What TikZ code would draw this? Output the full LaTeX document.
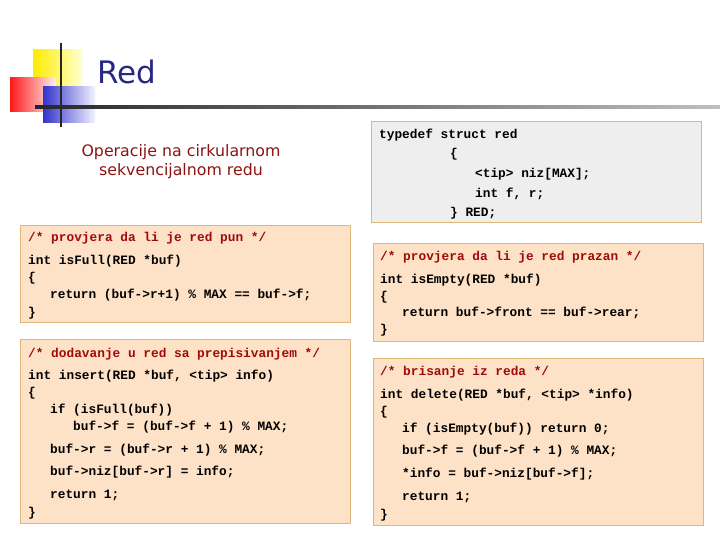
\documentclass[tikz,border=0pt]{standalone}
\usepackage{fontspec}
\setmainfont{DejaVu Sans}
\newfontfamily\codefont{Liberation Mono}
\begin{document}
\begin{tikzpicture}[x=1pt,y=-1pt,
  box/.style={draw={rgb,255:red,222;green,184;blue,120},line width=0.8pt,fill={rgb,255:red,253;green,226;blue,199}},
  gbox/.style={draw={rgb,255:red,222;green,184;blue,120},line width=0.8pt,fill={rgb,255:red,238;green,238;blue,238}},
  cl/.style={anchor=base west,inner sep=0pt,font=\codefont\bfseries\fontsize{12.8}{14}\selectfont},
  cmt/.style={cl,text={rgb,255:red,160;green,10;blue,10}}]
\definecolor{navy}{RGB}{40,40,130}
\definecolor{dred}{RGB}{140,20,20}
\useasboundingbox (0,0) rectangle (720,540);
% logo
\shade[left color=yellow!85!orange, right color=yellow!20] (33,50) rectangle (82,97);
\shade[left color=red!90, right color=red!5] (10,78) rectangle (56,112);
\shade[left color=blue!75!black!80, right color=blue!5] (43,87) rectangle (95,123);
\draw[line width=2.5pt,black!85] (61,43) -- (61,127);
\shade[left color=black!85, right color=black!25] (35,105.5) rectangle (720,109);
\node[anchor=base west,inner sep=0pt,text=navy,font=\fontsize{31}{34}\selectfont] (title) at (97,84) {Red};
\node[align=center,inner sep=0pt,text=dred,font=\fontsize{15.8}{19}\selectfont] (sub) at (181,162) {Operacije na cirkularnom\\sekvencijalnom redu};
% boxes
\draw[box] (20,225) rectangle (350,322);
\draw[box] (20,339) rectangle (350,523);
\draw[gbox] (371,121) rectangle (701,222);
\draw[box] (373,243) rectangle (703,341);
\draw[box] (373,358) rectangle (703,525);
% isFull
\node[cmt] (a1) at (28,241) {/* provjera da li je red pun */};
\node[cl] (a2) at (28,264) {int isFull(RED *buf)};
\node[cl] (a3) at (28,281) {\{};
\node[cl] (a4) at (50,298) {return (buf->r+1) \% MAX == buf->f;};
\node[cl] (a5) at (28,316) {\}};
% insert
\node[cmt] (b1) at (28,357) {/* dodavanje u red sa prepisivanjem */};
\node[cl] (b2) at (28,379) {int insert(RED *buf, <tip> info)};
\node[cl] (b3) at (28,396) {\{};
\node[cl] (b4) at (50,413) {if (isFull(buf))};
\node[cl] (b5) at (73,430) {buf->f = (buf->f + 1) \% MAX;};
\node[cl] (b6) at (50,453) {buf->r = (buf->r + 1) \% MAX;};
\node[cl] (b7) at (50,475) {buf->niz[buf->r] = info;};
\node[cl] (b8) at (50,498) {return 1;};
\node[cl] (b9) at (28,516) {\}};
% typedef
\node[cl] (c1) at (379,139) {typedef struct red};
\node[cl] (c2) at (450,158) {\{};
\node[cl] (c3) at (475,178) {<tip> niz[MAX];};
\node[cl] (c4) at (475,197) {int f, r;};
\node[cl] (c5) at (450,216) {\} RED;};
% isEmpty
\node[cmt] (d1) at (380,260) {/* provjera da li je red prazan */};
\node[cl] (d2) at (380,283) {int isEmpty(RED *buf)};
\node[cl] (d3) at (380,300) {\{};
\node[cl] (d4) at (402,316) {return buf->front == buf->rear;};
\node[cl] (d5) at (380,333) {\}};
% delete
\node[cmt] (e1) at (380,375) {/* brisanje iz reda */};
\node[cl] (e2) at (380,398) {int delete(RED *buf, <tip> *info)};
\node[cl] (e3) at (380,415) {\{};
\node[cl] (e4) at (402,432) {if (isEmpty(buf)) return 0;};
\node[cl] (e5) at (402,454) {buf->f = (buf->f + 1) \% MAX;};
\node[cl] (e6) at (402,477) {*info = buf->niz[buf->f];};
\node[cl] (e7) at (402,500) {return 1;};
\node[cl] (e8) at (380,518) {\}};
\end{tikzpicture}
\end{document}
